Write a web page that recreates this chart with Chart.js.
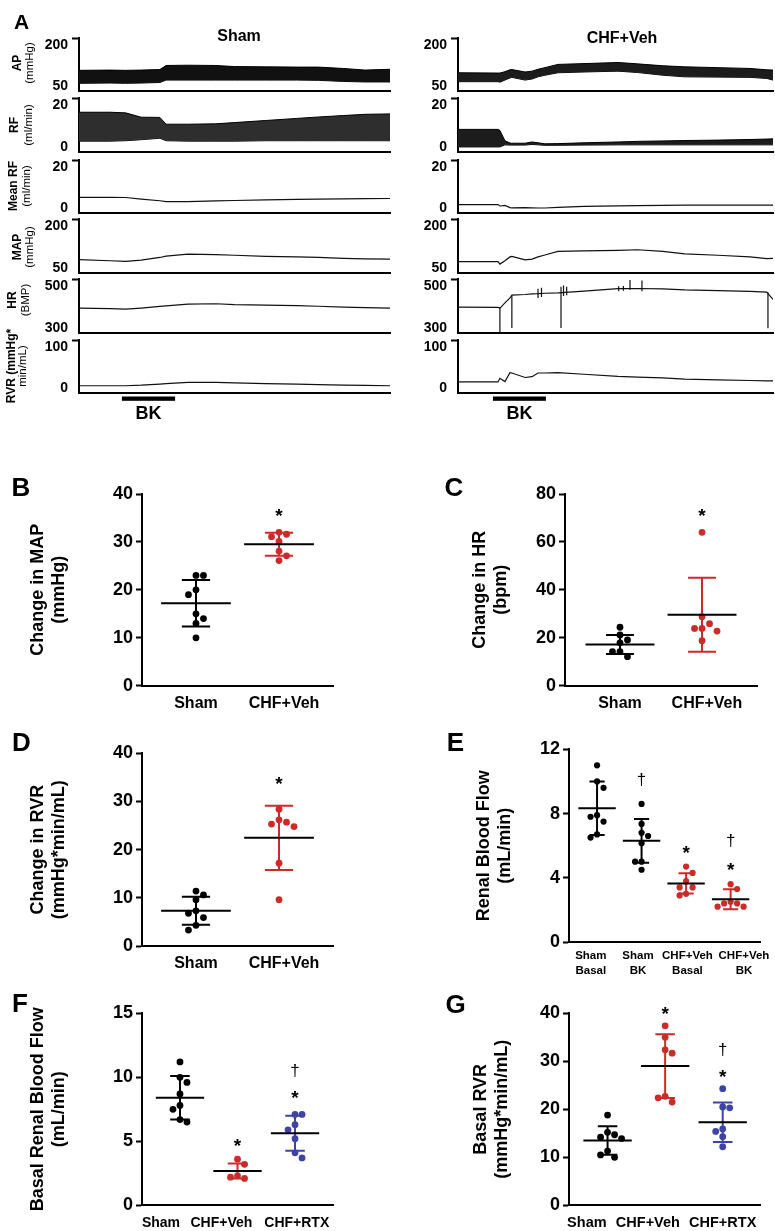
<!DOCTYPE html>
<html><head><meta charset="utf-8">
<script src="https://cdn.jsdelivr.net/npm/chart.js@4.4.1/dist/chart.umd.min.js"></script>
<style>
html,body{margin:0;padding:0;background:#fff;}
body{width:775px;height:1231px;position:relative;overflow:hidden;font-family:'Liberation Sans',Arial,sans-serif;color:#000;}
canvas{position:absolute;}
.lbl{position:absolute;white-space:nowrap;line-height:1;transform:translate(-50%,-50%);}
</style></head><body>
<script>
// ---------------- DATA: panel A traces ----------------
const tSham = [0, 10, 15, 20, 26, 28, 35, 44, 50, 60, 70, 77, 85, 92, 100];
const apShamHi = [108, 109, 108, 109, 111, 126, 127, 126, 122, 121, 120, 120, 115, 109, 112];
const apShamLo = [60, 61, 60, 61, 63, 72, 72, 72, 72, 72, 72, 71, 67, 65, 65];
const rfShamHi = [16.8, 16.8, 16.5, 14.4, 14.3, 11.0, 11.0, 11.2, 11.8, 12.8, 13.8, 14.5, 15.2, 15.8, 16.0];
const rfShamLo = [2.8, 2.8, 3.0, 3.5, 4.2, 3.0, 2.8, 2.8, 2.8, 3.0, 3.0, 3.0, 3.0, 3.0, 3.0];
const mrfSham = [5.3, 5.3, 5.2, 4.4, 3.6, 3.2, 3.2, 3.5, 3.7, 4.0, 4.3, 4.4, 4.5, 4.6, 4.7];
const mapSham = [80, 76, 74, 78, 88, 93, 100, 98, 96, 92, 90, 88, 85, 83, 82];
const hrSham = [396, 393, 391, 396, 404, 407, 415, 417, 413, 410, 408, 405, 401, 398, 396];
const rvrSham = [5.6, 5.6, 5.6, 7, 9.8, 11, 13.9, 13.9, 12.5, 11, 9.8, 8.5, 7.3, 6.5, 5.6];

const tChf = [0, 12.7, 13.3, 14.9, 16.5, 17.1, 21.3, 23.5, 25.4, 27.6, 31.7, 40, 50.8, 57, 65, 72, 82.5, 92.7, 98, 100];
const apChfHi = [99, 98, 98, 103, 110, 111, 102, 105, 112, 118, 130, 133, 137, 132, 125, 121, 118, 115, 110, 109];
const apChfLo = [66, 66, 64, 72, 80, 82, 72, 76, 84, 90, 99, 102, 105, 100, 90, 84, 83, 82, 78, 72];
const rfChfHi = [8.5, 8.5, 8.0, 3.0, 1.9, 1.8, 1.8, 2.4, 2.0, 1.5, 1.6, 2.0, 2.4, 2.7, 2.9, 3.1, 3.3, 3.6, 3.8, 3.9];
const rfChfLo = [0, 0, 0, 1.0, 0.9, 0.9, 0.9, 1.2, 1.0, 0.8, 0.8, 0.9, 1.0, 1.0, 1.0, 1.0, 1.0, 1.0, 1.0, 1.0];
const mrfChf = [1.7, 1.7, 1.0, 1.3, 0.2, 0.1, 0.2, 0.1, 0, 0, 0.3, 0.8, 1.1, 1.2, 1.3, 1.4, 1.4, 1.4, 1.4, 1.4];
const mapChf = [73, 73, 64, 76, 90, 92, 79, 82, 90, 97, 110, 112, 114, 116, 110, 101, 96, 90, 84, 85];
const hrChf = [401, 400, 395, 421, 445, 459, 462, 465, 466, 468, 470, 478, 490, 491, 489, 484, 481, 477, 473, 438];
const rvrChf = [15, 15, 24, 16, 38, 37, 26, 28, 37, 37, 38, 34, 28.5, 27, 25, 22, 20, 18.5, 17.8, 17.8];
const hrSpikeT = [13.3, 17.1, 25.4, 26.5, 32.7, 33.5, 34.5, 51, 52.5, 54.6, 58.4, 98.4];
const hrSpikeLo = [276, 300, 445, 450, 300, 455, 458, 478, 480, 485, 478, 298];
const hrSpikeHi = [401, 459, 490, 495, 500, 505, 500, 502, 503, 532, 530, 473];
const bkSham = [13.8, 30.9];
const bkChf = [11.1, 27.9];

const rowLabels = [['AP','(mmHg)'], ['RF','(ml/min)'], ['Mean RF','(ml/min)'], ['MAP','(mmHg)'], ['HR','(BMP)'], ['RVR (mmHg*','min/mL)']];
const rowRanges = [[50, 200], [0, 20], [0, 20], [50, 200], [300, 500], [0, 100]];

// ---------------- DATA: panels B-G ----------------
const catsB = ['Sham', 'CHF+Veh'];
const shamB = [23, 23, 20, 19, 15, 14, 13, 10];
const chfB = [32, 31.6, 31.1, 30.1, 28.1, 27.1, 26.1];
const meanB = [17.2, 29.5];
const sdB = [4.87, 2.4];

const catsC = ['Sham', 'CHF+Veh'];
const shamC = [24.4, 21.2, 19.1, 17.9, 14.2, 14.2, 12.1];
const chfC = [64, 28.8, 25.9, 23.9, 23.9, 22.8, 18.8];
const meanC = [17.2, 29.65];
const sdC = [4.0, 15.45];

const catsD = ['Sham', 'CHF+Veh'];
const shamD = [11.4, 10.6, 9.6, 7.3, 6.8, 5.9, 4.3, 3.3];
const chfD = [28.4, 26.2, 25.7, 25.3, 24.8, 17.2, 9.6];
const meanD = [7.3, 22.45];
const sdD = [2.9, 6.65];

const catsE = [['Sham','Basal'], ['Sham','BK'], ['CHF+Veh','Basal'], ['CHF+Veh','BK']];
const shamBasalE = [11.0, 10.0, 9.6, 7.9, 7.8, 7.5, 6.7, 6.5];
const shamBkE = [8.6, 7.35, 6.8, 6.6, 6.15, 5.0, 5.0, 4.5];
const chfBasalE = [4.7, 4.3, 3.8, 3.4, 3.4, 3.0, 2.9];
const chfBkE = [3.6, 3.3, 2.5, 2.4, 2.4, 2.2, 2.2];
const meanE = [8.33, 6.3, 3.65, 2.66];
const sdE = [1.67, 1.36, 0.63, 0.62];

const catsF = ['Sham', 'CHF+Veh', 'CHF+RTX'];
const shamF = [11.2, 10.0, 9.6, 8.7, 7.8, 7.5, 6.7, 6.5];
const chfF = [3.6, 3.2, 2.3, 2.2, 2.1];
const rtxF = [7.1, 7.1, 6.3, 5.9, 5.2, 4.1, 3.7];
const meanF = [8.4, 2.68, 5.63];
const sdF = [1.7, 0.58, 1.37];

const catsG = ['Sham', 'CHF+Veh', 'CHF+RTX'];
const shamG = [18.8, 15.2, 14.7, 14.2, 13.9, 11.3, 10.5, 10.0];
const chfG = [37.4, 35.0, 32.4, 31.7, 22.7, 22.4, 21.5];
const rtxG = [24.3, 20.5, 20.3, 15.9, 15.4, 14.3, 12.2];
const meanG = [13.5, 29.0, 17.3];
const sdG = [2.95, 6.65, 4.1];

const notesB = [{g:1, v:36.1, s:'*'}];
const notesC = [{g:1, v:72.2, s:'*'}];
const notesD = [{g:1, v:34.4, s:'*'}];
const notesE = [{g:1, v:10.1, s:'†'}, {g:2, v:5.77, s:'*'}, {g:3, v:6.35, s:'†'}, {g:3, v:4.69, s:'*'}];
const notesF = [{g:1, v:4.89, s:'*'}, {g:2, v:10.57, s:'†'}, {g:2, v:8.67, s:'*'}];
const notesG = [{g:1, v:40.5, s:'*'}, {g:2, v:32.4, s:'†'}, {g:2, v:27.5, s:'*'}];

// ---------------- helpers ----------------
const FONT = "'Liberation Sans', Arial, sans-serif";
Chart.defaults.font.family = FONT;
Chart.defaults.color = '#000';
const BLACK = '#000', RED = '#cc2b28', BLUE = '#3e44a4';

function makeCanvas(l, t, w, h) {
  const c = document.createElement('canvas');
  c.width = w; c.height = h;
  c.style.left = l + 'px'; c.style.top = t + 'px';
  c.style.width = w + 'px'; c.style.height = h + 'px';
  document.body.appendChild(c);
  return c;
}
function label(text, x, y, size, weight, rot) {
  const d = document.createElement('div');
  d.className = 'lbl';
  d.textContent = text;
  d.style.left = x + 'px'; d.style.top = y + 'px';
  d.style.fontSize = size + 'px'; d.style.fontWeight = weight;
  if (rot) d.style.transform = 'translate(-50%,-50%) rotate(-90deg)';
  document.body.appendChild(d);
}
const pts = (t, v) => t.map((x, i) => ({x, y: v[i]}));

function band(t, hi, lo, col) {
  return [
    {data: pts(t, hi), borderColor: '#000', borderWidth: 1, backgroundColor: col, fill: '+1'},
    {data: pts(t, lo), borderColor: '#000', borderWidth: 1, fill: false}
  ];
}
function trace(t, v) {
  return [{data: pts(t, v), borderColor: '#111', borderWidth: 1.2, fill: false}];
}

function bkPlugin(range) {
  return {
    id: 'bk',
    afterDraw(chart) {
      const {ctx, scales: {x}, chartArea} = chart;
      const x0 = x.getPixelForValue(range[0]), x1 = x.getPixelForValue(range[1]);
      ctx.save();
      ctx.fillStyle = '#000';
      ctx.fillRect(x0, chartArea.bottom + 3.5, x1 - x0, 4.3);
      ctx.font = 'bold 18px ' + FONT;
      ctx.textAlign = 'center';
      ctx.textBaseline = 'middle';
      ctx.fillText('BK', (x0 + x1) / 2, chartArea.bottom + 21);
      ctx.restore();
    }
  };
}

function traceChart(cfg) {
  const range = cfg.hi - cfg.lo;
  const ymax = cfg.hi + 0.185 * range, ymin = cfg.lo - 0.123 * range;
  const padTop = 10;
  const top = cfg.axisTop - padTop;
  const bottomPad = 2 + (cfg.extraBottom || 0);
  const height = cfg.axisBottom - top + bottomPad;
  const width = cfg.axisRight + 2 - cfg.left;
  const cv = makeCanvas(cfg.left, top, width, height);
  new Chart(cv, {
    type: 'line',
    data: {datasets: cfg.datasets},
    options: {
      responsive: false, animation: false, devicePixelRatio: 1,
      layout: {padding: {top: padTop, bottom: bottomPad, left: 0, right: 2}},
      plugins: {legend: {display: false}, tooltip: {enabled: false}},
      elements: {point: {radius: 0}, line: {tension: 0}},
      spanGaps: false,
      scales: {
        x: {type: 'linear', min: 0, max: 100,
            ticks: {display: false}, grid: {display: false, drawTicks: false},
            border: {display: true, width: 2, color: '#000'},
            afterFit: s => { s.height = 0; s.paddingLeft = 0; s.paddingRight = 0; }},
        y: {type: 'linear', min: ymin, max: ymax,
            afterBuildTicks: s => { s.ticks = [{value: cfg.lo}, {value: cfg.hi}, {value: ymax}]; },
            ticks: {autoSkip: false, font: {size: 14, weight: 'bold'}, color: '#000', padding: 4,
                    callback: (v, i) => i === 2 ? '' : String(v)},
            grid: {drawOnChartArea: false, drawTicks: true, tickLength: 7, tickWidth: 2,
                   tickColor: c => (c.index === 2) ? '#000' : 'rgba(0,0,0,0)'},
            border: {display: true, width: 2, color: '#000'},
            afterFit: s => { s.width = cfg.axisLeft - cfg.left; s.paddingTop = 0; s.paddingBottom = 0; }}
      }
    },
    plugins: cfg.plugins || []
  });
}

function swarm(vals, pxY, pxX, step) {
  const placed = [];
  const order = vals.map((v, i) => i).sort((a, b) => vals[b] - vals[a]);
  const off = new Array(vals.length).fill(0);
  let flip = 1;
  for (const i of order) {
    const cands = [0];
    for (let k = 1; k < 6; k++) cands.push(flip * k * step, -flip * k * step);
    let chosen = 0;
    for (const c of cands) {
      if (placed.every(p => Math.hypot((vals[i] - p.v) * pxY, c - p.o) >= step - 0.01)) { chosen = c; break; }
    }
    if (chosen !== 0) flip = -Math.sign(chosen);
    placed.push({v: vals[i], o: chosen});
    off[i] = chosen / pxX;
  }
  return off;
}

const notesPlugin = {
  id: 'notes',
  afterDatasetsDraw(chart, args, opts) {
    const {ctx, scales: {x, y}} = chart;
    (opts.items || []).forEach(n => {
      ctx.save();
      ctx.fillStyle = '#000';
      ctx.font = n.s === '*' ? ('bold 19px ' + FONT) : ('17px ' + FONT);
      const m = ctx.measureText(n.s);
      const cx = x.getPixelForValue(n.g), cy = y.getPixelForValue(n.v);
      ctx.textAlign = 'center';
      ctx.textBaseline = 'alphabetic';
      ctx.fillText(n.s, cx, cy + (m.actualBoundingBoxAscent - m.actualBoundingBoxDescent) / 2);
      ctx.restore();
    });
  }
};

function dotChart(p) {
  const cv = makeCanvas(p.left, p.top, p.width, p.height);
  const pxY = (p.axisBottom - p.axisTop) / p.ymax;
  const pxX = (p.axisRight - p.axisLeft) / (p.xmax - p.xmin);
  const labelPos = p.labelPos || p.cats.map((c, i) => i);
  const ds = [];
  const meanPts = [];
  p.means.forEach((m, i) => { meanPts.push({x: i - 0.42, y: m}, {x: i + 0.42, y: m}, {x: i, y: null}); });
  ds.push({data: meanPts, borderColor: '#000', borderWidth: 2, pointRadius: 0, showLine: true, spanGaps: false, fill: false});
  p.groups.forEach((g, i) => {
    const m = p.means[i], s = p.sds[i], c = 0.17;
    ds.push({data: [{x: i, y: m - s}, {x: i, y: m + s}, {x: i, y: null},
                    {x: i - c, y: m + s}, {x: i + c, y: m + s}, {x: i, y: null},
                    {x: i - c, y: m - s}, {x: i + c, y: m - s}],
             borderColor: g.color, borderWidth: 2, pointRadius: 0, showLine: true, spanGaps: false, fill: false});
  });
  p.groups.forEach((g, i) => {
    const off = swarm(g.vals, pxY, pxX, p.step);
    ds.push({data: g.vals.map((v, j) => ({x: i + off[j], y: v})), pointRadius: p.r,
             pointBackgroundColor: g.color, pointBorderWidth: 0, pointBorderColor: g.color, showLine: false});
  });
  new Chart(cv, {
    type: 'scatter',
    data: {datasets: ds},
    options: {
      responsive: false, animation: false, devicePixelRatio: 1,
      layout: {padding: {top: p.axisTop - p.top, bottom: 0, left: 0, right: p.left + p.width - p.axisRight}},
      plugins: {legend: {display: false}, tooltip: {enabled: false}, notes: {items: p.notes}},
      scales: {
        x: {type: 'linear', min: p.xmin, max: p.xmax,
            afterBuildTicks: s => { s.ticks = labelPos.map(v => ({value: v})); },
            ticks: {autoSkip: false, maxRotation: 0, minRotation: 0,
                    font: {size: p.xFont, weight: 'bold', lineHeight: 1.25}, color: '#000', padding: p.xPad,
                    callback: (v, i) => p.cats[i]},
            grid: {display: false, drawTicks: false},
            border: {display: true, width: 2, color: '#000'},
            afterFit: s => { s.height = p.top + p.height - p.axisBottom; s.paddingLeft = 0; s.paddingRight = 0; }},
        y: {type: 'linear', min: 0, max: p.ymax,
            ticks: {stepSize: p.ystep, autoSkip: false, font: {size: 18, weight: 'bold'}, color: '#000', padding: 3},
            grid: {drawOnChartArea: false, drawTicks: true, tickLength: 6, tickWidth: 2, tickColor: '#000'},
            border: {display: true, width: 2, color: '#000'},
            title: {display: true, text: p.title, color: '#000',
                    font: {size: 18, weight: 'bold', lineHeight: 1.15},
                    padding: {top: p.titleX - p.left - 10.35, bottom: 0}},
            afterFit: s => { s.width = p.axisLeft - p.left; s.paddingTop = 0; s.paddingBottom = 0; }}
      }
    },
    plugins: [notesPlugin]
  });
}

// ---------------- Panel A ----------------
const rowsGeom = [[38, 91], [98, 152], [160, 213], [219, 273], [279, 333], [340, 393]];
const shamSets = [
  band(tSham, apShamHi, apShamLo, '#111'),
  band(tSham, rfShamHi, rfShamLo, '#2e2e2e'),
  trace(tSham, mrfSham),
  trace(tSham, mapSham),
  trace(tSham, hrSham),
  trace(tSham, rvrSham)
];
const spikePts = [];
hrSpikeT.forEach((t, i) => { spikePts.push({x: t, y: hrSpikeLo[i]}, {x: t, y: hrSpikeHi[i]}, {x: t, y: null}); });
const chfSets = [
  band(tChf, apChfHi, apChfLo, '#1c1c1c'),
  band(tChf, rfChfHi, rfChfLo, '#1c1c1c'),
  trace(tChf, mrfChf),
  trace(tChf, mapChf),
  trace(tChf, hrChf).concat([{data: spikePts, borderColor: '#111', borderWidth: 1.2, fill: false, spanGaps: false}]),
  trace(tChf, rvrChf)
];
rowsGeom.forEach((g, r) => {
  const last = r === rowsGeom.length - 1;
  traceChart({left: 0, axisLeft: 79, axisRight: 390, axisTop: g[0], axisBottom: g[1],
              lo: rowRanges[r][0], hi: rowRanges[r][1], datasets: shamSets[r],
              extraBottom: last ? 34 : 0, plugins: last ? [bkPlugin(bkSham)] : []});
  traceChart({left: 379, axisLeft: 458, axisRight: 773, axisTop: g[0], axisBottom: g[1],
              lo: rowRanges[r][0], hi: rowRanges[r][1], datasets: chfSets[r],
              extraBottom: last ? 34 : 0, plugins: last ? [bkPlugin(bkChf)] : []});
});
const rowLabelY = [63, 125, 186, 247, 300, 366];
const rowLabelX = [[17, 29.5], [14, 28.5], [13, 27], [17, 29.5], [12, 25.5], [11, 23]];
rowLabels.forEach((l, r) => {
  label(l[0], rowLabelX[r][0], rowLabelY[r], 12, 'bold', true);
  label(l[1], rowLabelX[r][1], rowLabelY[r], 11.5, 'normal', true);
});
label('Sham', 239, 36, 16, 'bold', false);
label('CHF+Veh', 622, 38, 16, 'bold', false);

// ---------------- Panels B-G ----------------
dotChart({left: 0, top: 470, width: 345, height: 255, axisLeft: 142, axisTop: 494, axisBottom: 685.7, axisRight: 333,
  xmin: -0.65, xmax: 1.65, ymax: 40, ystep: 10, cats: catsB, labelPos: [0, 1.06],
  groups: [{vals: shamB, color: BLACK}, {vals: chfB, color: RED}], means: meanB, sds: sdB,
  title: ['Change in MAP', '(mmHg)'], titleX: 38, xFont: 16, xPad: 8, notes: notesB, r: 3.4, step: 7.5});
dotChart({left: 440, top: 470, width: 330, height: 255, axisLeft: 565, axisTop: 494, axisBottom: 685.7, axisRight: 757,
  xmin: -0.67, xmax: 1.67, ymax: 80, ystep: 20, cats: catsC, labelPos: [0, 1.06],
  groups: [{vals: shamC, color: BLACK}, {vals: chfC, color: RED}], means: meanC, sds: sdC,
  title: ['Change in HR', '(bpm)'], titleX: 480, xFont: 16, xPad: 8, notes: notesC, r: 3.4, step: 7.5});
dotChart({left: 0, top: 730, width: 345, height: 255, axisLeft: 142, axisTop: 753.3, axisBottom: 946, axisRight: 333,
  xmin: -0.65, xmax: 1.65, ymax: 40, ystep: 10, cats: catsD, labelPos: [0, 1.06],
  groups: [{vals: shamD, color: BLACK}, {vals: chfD, color: RED}], means: meanD, sds: sdD,
  title: ['Change in RVR', '(mmHg*min/mL)'], titleX: 38, xFont: 16, xPad: 8, notes: notesD, r: 3.4, step: 7.5});
dotChart({left: 440, top: 726, width: 330, height: 259, axisLeft: 569, axisTop: 749.3, axisBottom: 942, axisRight: 760,
  xmin: -0.63, xmax: 3.66, ymax: 12, ystep: 4, cats: catsE, labelPos: [-0.14, 0.92, 2.03, 3.3],
  groups: [{vals: shamBasalE, color: BLACK}, {vals: shamBkE, color: BLACK}, {vals: chfBasalE, color: RED}, {vals: chfBkE, color: RED}],
  means: meanE, sds: sdE,
  title: ['Renal Blood Flow', '(mL/min)'], titleX: 484, xFont: 11.5, xPad: 7, notes: notesE, r: 3.1, step: 6.5});
dotChart({left: 0, top: 990, width: 345, height: 241, axisLeft: 142, axisTop: 1013.3, axisBottom: 1205.3, axisRight: 333,
  xmin: -0.66, xmax: 2.66, ymax: 15, ystep: 5, cats: catsF, labelPos: [-0.33, 0.72, 2.03],
  groups: [{vals: shamF, color: BLACK}, {vals: chfF, color: RED}, {vals: rtxF, color: BLUE}], means: meanF, sds: sdF,
  title: ['Basal Renal Blood Flow', '(mL/min)'], titleX: 38, xFont: 14, xPad: 9, notes: notesF, r: 3.4, step: 7});
dotChart({left: 440, top: 990, width: 330, height: 241, axisLeft: 569, axisTop: 1013.3, axisBottom: 1205.3, axisRight: 760.7,
  xmin: -0.67, xmax: 2.66, ymax: 40, ystep: 10, cats: catsG, labelPos: [-0.36, 0.7, 2.0],
  groups: [{vals: shamG, color: BLACK}, {vals: chfG, color: RED}, {vals: rtxG, color: BLUE}], means: meanG, sds: sdG,
  title: ['Basal RVR', '(mmHg*min/mL)'], titleX: 481, xFont: 14.5, xPad: 9, notes: notesG, r: 3.4, step: 7});

// panel letters
label('A', 21.5, 20.5, 21, 'bold', false);
label('B', 21, 487, 26, 'bold', false);
label('C', 454, 487, 26, 'bold', false);
label('D', 21.5, 742, 26, 'bold', false);
label('E', 455.5, 742, 26, 'bold', false);
label('F', 20, 1003, 26, 'bold', false);
label('G', 455.5, 1004, 26, 'bold', false);
</script>
</body></html>
